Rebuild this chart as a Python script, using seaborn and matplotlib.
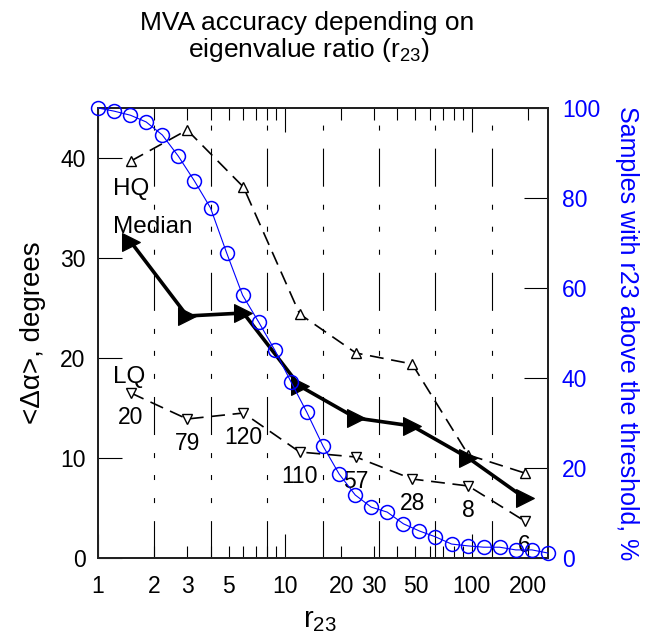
import numpy as np
import pandas as pd
import matplotlib
matplotlib.use("Agg")
import matplotlib.pyplot as plt
import matplotlib.ticker as mticker
import seaborn as sns

# ---------------- data ----------------
bin_x = [1.5, 3, 6, 12, 24, 48, 96, 192]
median = [31.6, 24.2, 24.5, 17.2, 14.0, 13.2, 10.0, 6.0]
hq = [39.7, 42.8, 37.1, 24.4, 20.5, 19.4, 10.3, 8.5]
lq = [16.5, 13.9, 14.5, 10.6, 10.1, 7.9, 7.2, 3.7]
counts = ["20", "79", "120", "110", "57", "28", "8", "6"]

thr_x = [1.0, 1.22, 1.49, 1.81, 2.21, 2.69, 3.28, 4.0, 4.88, 5.94, 7.25, 8.83,
         10.8, 13.1, 16.0, 19.5, 23.8, 29.0, 35.3, 43.1, 52.5, 64.0, 78.0,
         95.1, 116, 141, 172, 210, 256]
thr_pct = [100, 99.3, 98.4, 96.9, 94.0, 89.3, 83.8, 77.8, 67.8, 58.4, 52.4, 46.2,
           39.1, 32.4, 24.9, 18.7, 14.0, 11.3, 10.2, 7.6, 6.0, 4.7, 3.1,
           2.7, 2.4, 2.4, 1.8, 1.8, 1.1]

grid_x = [2, 4, 8, 16, 32, 64, 128]
x_major = [1, 10, 100]
x_minor_labeled = [2, 3, 5, 20, 30, 50, 200]

# ---------------- style ----------------
sns.set_theme(style="white")
plt.rcParams["font.family"] = ["Liberation Sans", "DejaVu Sans"]
plt.rcParams["mathtext.fontset"] = "custom"
plt.rcParams["mathtext.rm"] = "Liberation Sans"
plt.rcParams["mathtext.it"] = "Liberation Sans:italic"
plt.rcParams["lines.scale_dashes"] = False
plt.rcParams["text.color"] = "black"
plt.rcParams["axes.labelcolor"] = "black"
plt.rcParams["xtick.color"] = "black"
plt.rcParams["ytick.color"] = "black"

fig = plt.figure(figsize=(6.5, 6.34), dpi=100)
W, H = 650, 634
ax = fig.add_axes([98 / W, 1 - 558 / H, 450 / W, 450 / H])
ax.set_xscale("log")
ax.set_xlim(1, 256)
ax.set_ylim(0, 45)

# dash-dot vertical guide lines (drawn from top to bottom)
ax.vlines(grid_x, 45, 0, colors="black", linewidth=0.8,
          linestyles=[(60.5, (27.4, 13, 3.6, 12.2, 3.6, 13, 3.6, 13))], zorder=1)

df = pd.DataFrame({"x": bin_x, "median": median, "hq": hq, "lq": lq})
sns.lineplot(data=df, x="x", y="hq", ax=ax, color="black", linewidth=1.2,
             linestyle=(0, (10, 5.5)), marker="^", markersize=7.5,
             markerfacecolor="white", markeredgecolor="black", markeredgewidth=1.0,
             zorder=3)
sns.lineplot(data=df, x="x", y="lq", ax=ax, color="black", linewidth=1.2,
             linestyle=(0, (10, 5.5)), marker="v", markersize=7.5,
             markerfacecolor="white", markeredgecolor="black", markeredgewidth=1.0,
             zorder=3)
sns.lineplot(data=df, x="x", y="median", ax=ax, color="black", linewidth=2.6,
             marker=">", markersize=12.5, markerfacecolor="black",
             markeredgecolor="black", zorder=4)

for xv, yv, c in zip(bin_x, lq, counts):
    ax.annotate(c, (xv, yv), xytext=(0, -17.5), textcoords="offset points",
                ha="center", va="center", fontsize=16.5, color="black", zorder=5)

ax.text(1.2, 36.9, "HQ", fontsize=17.5, ha="left", va="center")
ax.text(1.2, 33.1, "Median", fontsize=17.5, ha="left", va="center")
ax.text(1.2, 18.1, "LQ", fontsize=17.5, ha="left", va="center")

# axis ticks
ax.xaxis.set_major_locator(mticker.FixedLocator(x_major))
ax.xaxis.set_major_formatter(mticker.FixedFormatter([str(v) for v in x_major]))
minors = [v * d for d in (1, 10, 100) for v in range(2, 10) if v * d <= 256]
ax.xaxis.set_minor_locator(mticker.FixedLocator(minors))
ax.xaxis.set_minor_formatter(mticker.FuncFormatter(
    lambda v, p: (str(int(round(v))) if int(round(v)) in x_minor_labeled else "")))
ax.set_yticks([0, 10, 20, 30, 40])
ax.tick_params(axis="x", which="major", direction="in", length=17, width=0.8,
               top=True, bottom=True, labelsize=16.5, pad=12, color="black")
ax.tick_params(axis="x", which="minor", direction="in", length=8.5, width=0.8,
               top=True, bottom=True, labelsize=16.5, pad=12, color="black")
ax.tick_params(axis="y", which="major", direction="in", length=17, width=0.8,
               left=True, right=False, labelsize=16.5, pad=9, color="black")
for s in ax.spines.values():
    s.set_color("#222222")
    s.set_linewidth(1.4)

ax.set_xlabel("r$_{23}$", fontsize=21)
ax.xaxis.set_label_coords((320 - 98) / 450, (558 - 620) / 450)
ax.xaxis.label.set_va("center")
ax.set_ylabel("<Δα>, degrees", fontsize=20)
ax.yaxis.set_label_coords((33 - 98) / 450, 0.5)
ax.yaxis.label.set_va("center")

# right axis
ax2 = ax.twinx()
ax2.set_ylim(0, 100)
sns.lineplot(x=thr_x, y=thr_pct, ax=ax2, color="blue", linewidth=0.8,
             marker="o", markersize=10, markerfacecolor="none",
             markeredgecolor="blue", markeredgewidth=1.1, clip_on=False, zorder=5)
ax2.set_yticks([0, 20, 40, 60, 80, 100])
ax2.tick_params(axis="y", which="major", direction="in", length=17, width=0.8,
                right=True, left=False, labelsize=16.5, pad=10,
                labelcolor="blue", color="black")
ax2.set_ylabel("Samples with r23 above the threshold, %", fontsize=18,
               color="blue", rotation=-90)
ax2.yaxis.set_label_coords((627 - 98) / 450, 0.5)
ax2.yaxis.label.set_va("center")
for s in ax2.spines.values():
    s.set_color("#222222")
    s.set_linewidth(1.4)

fig.text(307 / W, 1 - 30 / H, "MVA accuracy depending on", fontsize=19,
         ha="center", va="baseline", color="black")
fig.text(309 / W, 1 - 57 / H, "eigenvalue ratio (r$_{23}$)", fontsize=19,
         ha="center", va="baseline", color="black")

fig.savefig("out.png", dpi=100)
